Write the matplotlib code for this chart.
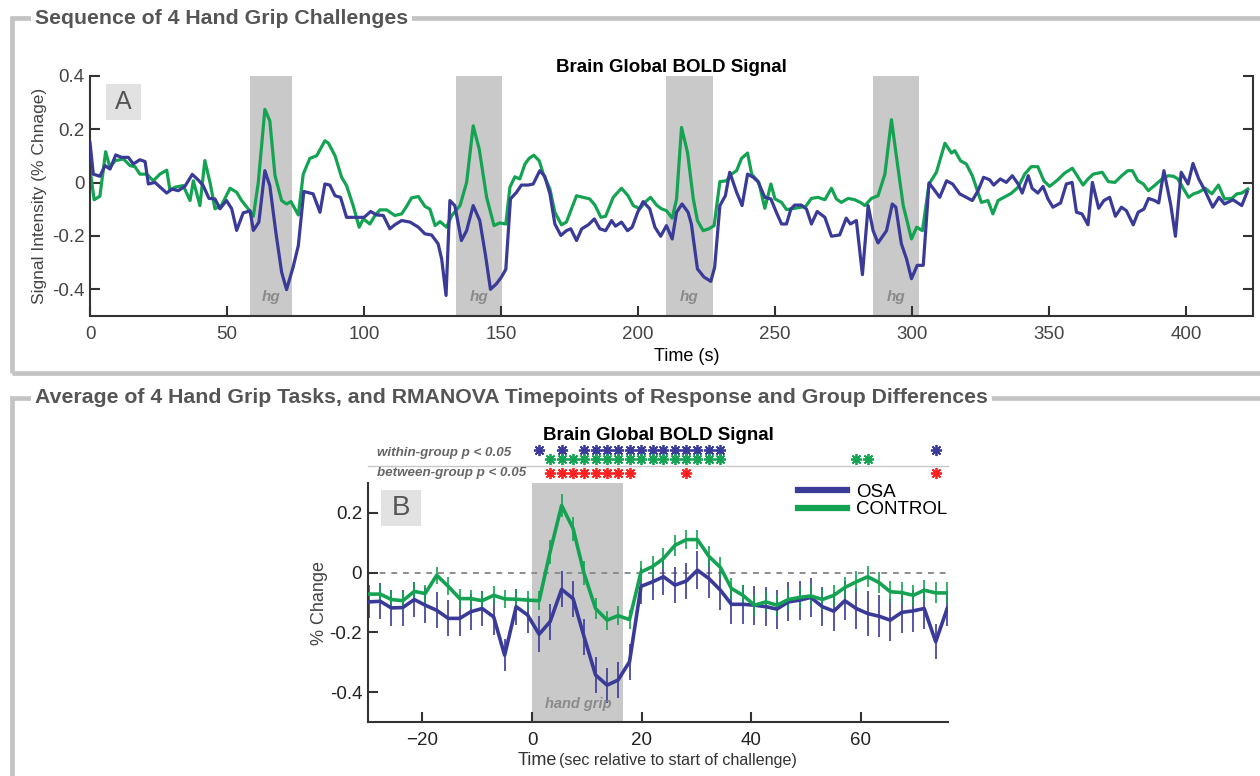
import matplotlib
matplotlib.use("Agg")
import matplotlib.pyplot as plt
from matplotlib.patches import Rectangle
from matplotlib.lines import Line2D
from matplotlib.transforms import blended_transform_factory

plt.rcParams["font.family"] = ["Liberation Sans", "DejaVu Sans"]

# ===============================
# PANEL A - whole run (4 hand grips)
# ===============================
osa_t = [0.0, 1.2, 3.6, 5.5, 7.3, 9.4, 11.5, 14.0, 15.8, 18.2, 20.1, 21.3, 23.7, 28.0, 29.8,
         32.2, 34.6, 37.3, 39.5, 41.3, 43.4, 45.6, 47.4, 49.8, 51.7, 53.5, 55.9, 58.4, 59.6,
         61.6, 63.8, 65.6, 67.8, 69.9, 71.7, 74.1, 76.0, 78.0, 81.4, 83.9,
         85.7, 87.5, 89.4, 91.4, 93.6, 96.0, 98.2, 100.0, 102.4, 104.5, 107.0, 109.4, 111.2,
         113.7, 116.8, 119.8, 122.2, 124.6, 127.0, 128.3, 129.9, 131.3, 133.1, 135.5, 137.4,
         139.8, 142.2, 144.3, 146.1, 148.3, 150.1, 151.7, 153.4, 155.6, 157.4, 159.9, 161.7,
         164.1, 165.9, 167.8, 169.6,
         171.8, 173.8, 175.4, 177.5, 179.4, 181.8, 184.0, 186.0, 188.1, 190.3, 191.7, 193.9,
         196.1, 197.8, 199.8, 201.8, 204.2, 206.1, 208.2, 210.3, 212.4, 214.0, 216.0, 218.2,
         219.4, 221.6, 224.0, 226.5, 227.9, 229.8, 231.8, 233.4, 235.9, 237.9, 239.9, 242.0,
         243.7, 246.2, 248.4, 250.4, 252.3, 254.1, 255.7,
         257.1, 259.5, 261.4, 263.2, 265.3, 268.1, 270.5, 273.5, 275.9, 277.4, 279.6, 281.8,
         283.9, 285.7, 287.5, 290.6, 292.7, 294.0, 296.0, 297.9, 299.7, 301.8, 304.0, 306.1,
         307.8, 310.0, 312.5, 314.7, 317.3, 319.7, 321.9, 324.0, 326.0, 328.2, 329.7, 332.1,
         334.3, 336.5, 338.6, 340.1,
         342.3, 343.7, 345.8, 347.7, 349.5, 351.3, 354.1, 356.2, 358.3, 359.9, 361.9, 364.1,
         365.7, 368.0, 369.9, 372.0, 374.1, 376.3, 378.1, 380.6, 382.4, 384.5, 386.2, 388.4,
         389.9, 391.8, 394.3, 396.0, 398.1, 400.6, 402.4, 404.5, 406.6, 409.6, 411.9, 413.9,
         417.0, 420.2, 422.2]
osa_v = [0.151, 0.032, 0.024, 0.064, 0.051, 0.104, 0.095, 0.095, 0.07, 0.086, 0.079, -0.005,
         0.001, -0.039, -0.024, -0.03, -0.014, 0.031, 0.01, -0.011, -0.059, -0.061, -0.098,
         -0.067, -0.098, -0.179, -0.113, -0.106, -0.179, -0.148, 0.045, -0.011, -0.186, -0.335,
         -0.401, -0.317, -0.236, -0.033, -0.042, -0.111,
         -0.005, -0.009, -0.049, -0.055, -0.13, -0.13, -0.13, -0.13, -0.108, -0.121, -0.123,
         -0.173, -0.158, -0.142, -0.148, -0.167, -0.192, -0.196, -0.229, -0.286, -0.423, -0.067,
         -0.086, -0.217, -0.18, -0.086, -0.142, -0.273, -0.4, -0.379, -0.354, -0.325, -0.061,
         -0.036, -0.009, -0.009, -0.005, 0.045, 0.024, -0.042, -0.155,
         -0.198, -0.18, -0.173, -0.217, -0.173, -0.158, -0.136, -0.173, -0.18, -0.142, -0.163,
         -0.148, -0.18, -0.167, -0.111, -0.071, -0.098, -0.167, -0.201, -0.161, -0.211, -0.111,
         -0.08, -0.111, -0.155, -0.323, -0.354, -0.37, -0.317, -0.086, -0.049, 0.039, -0.036,
         -0.086, 0.032, 0.02, 0.004, -0.055, -0.061, -0.111, -0.155, -0.155, -0.099,
         -0.084, -0.084, -0.099, -0.155, -0.108, -0.13, -0.201, -0.196, -0.133, -0.155, -0.142,
         -0.345, -0.086, -0.18, -0.226, -0.18, -0.08, -0.092, -0.229, -0.286, -0.36, -0.31,
         -0.31, -0.001, -0.024, -0.055, 0.007, -0.005, -0.042, -0.055, -0.067, -0.03, 0.02,
         0.011, -0.009, 0.014, 0.001, 0.026, -0.005, -0.039,
         0.026, -0.021, -0.039, -0.014, -0.061, -0.092, -0.076, -0.005, 0.001, -0.111, -0.117,
         -0.158, 0.001, -0.096, -0.067, -0.055, -0.126, -0.092, -0.105, -0.158, -0.111, -0.099,
         -0.059, -0.067, -0.076, 0.045, -0.084, -0.201, 0.039, -0.005, 0.072, 0.014, -0.026,
         -0.092, -0.055, -0.08, -0.064, -0.086, -0.034]

ctl_t = [0.0, 1.5, 3.6, 5.7, 7.3, 9.1, 12.2, 14.6, 16.4, 18.2, 20.7, 23.1, 25.5, 28.0, 29.2,
         31.0, 34.0, 36.5, 37.7, 40.1, 41.9, 43.8, 45.6, 48.0, 51.1, 53.5, 55.3, 57.7, 59.6,
         61.4, 63.8, 65.6, 67.5, 69.9, 71.7, 73.3, 76.0, 77.8, 80.2, 82.7, 85.7,
         87.0, 89.4, 91.8, 93.6, 96.0, 98.2, 99.7, 102.1, 104.0, 105.8, 108.2, 111.2, 113.7,
         115.5, 117.3, 119.8, 122.2, 124.0, 125.9, 127.7, 130.1, 132.0, 135.0, 137.4, 139.8,
         142.0, 144.7, 147.4, 149.5, 151.7, 153.2, 155.0, 156.8, 158.7, 160.2, 161.9, 163.9,
         165.4, 167.8, 169.6,
         172.0, 173.8, 177.5, 179.9, 182.3, 184.2, 186.4, 188.1, 190.9, 193.9, 196.3, 198.2,
         200.6, 202.4, 204.5, 206.7, 208.5, 210.3, 212.4, 214.0, 215.8, 218.0, 220.1, 221.6,
         223.7, 225.8, 227.7, 229.8, 232.2, 234.0, 235.9, 237.7, 239.9, 241.4, 244.0, 246.2,
         248.4, 249.9, 252.3, 254.1, 257.2,
         261.1, 263.2, 265.6, 268.1, 270.5, 272.3, 274.1, 276.6, 279.0, 281.4, 282.7, 285.1,
         287.5, 290.0, 292.4, 294.5, 296.7, 299.7, 301.6, 303.7, 306.1, 308.8, 311.9, 314.3,
         315.5, 317.6, 319.7, 321.9, 325.2, 327.6, 329.4, 331.3, 334.1, 336.1, 338.6, 341.0,
         343.4, 345.8, 348.0, 350.1, 353.1, 355.6, 358.4, 360.5, 362.3, 364.1, 366.0, 369.3,
         371.5, 373.9, 376.4, 378.6, 380.3, 382.3, 384.3, 386.1, 388.6, 391.1, 393.3, 395.3,
         396.9, 399.0, 400.8, 402.6, 404.4, 406.9, 409.3, 411.7, 413.9, 416.6, 418.4, 420.2,
         422.4]
ctl_v = [0.051, -0.064, -0.051, 0.116, 0.057, 0.082, 0.089, 0.064, 0.06, 0.032, 0.032, 0.007,
         0.032, 0.047, -0.03, -0.017, -0.011, -0.067, 0.007, -0.086, 0.083, 0.0, -0.098, -0.084,
         -0.021, -0.036, -0.067, -0.098, -0.126, 0.001, 0.275, 0.232, 0.026, -0.067, -0.08,
         -0.071, -0.121, 0.032, 0.091, 0.101, 0.157,
         0.148, 0.101, 0.02, -0.011, -0.086, -0.167, -0.136, -0.155, -0.123, -0.102, -0.102,
         -0.123, -0.117, -0.089, -0.057, -0.052, -0.089, -0.099, -0.161, -0.146, -0.167, -0.123,
         -0.086, 0.001, 0.213, 0.126, -0.055, -0.161, -0.151, -0.155, -0.017, 0.022, 0.014,
         0.07, 0.091, 0.103, 0.082, 0.032, -0.024, -0.111,
         -0.158, -0.148, -0.049, -0.055, -0.061, -0.084, -0.13, -0.126, -0.055, -0.021, -0.049,
         -0.086, -0.098, -0.074, -0.055, -0.084, -0.098, -0.105, -0.133, -0.061, 0.207, 0.113,
         -0.061, -0.142, -0.18, -0.173, -0.161, 0.004, 0.007, 0.032, 0.045, 0.091, 0.111, 0.032,
         0.001, -0.096, -0.005, -0.061, -0.074, -0.101, -0.096,
         -0.089, -0.059, -0.055, -0.064, -0.021, -0.061, -0.074, -0.059, -0.064, -0.076, -0.086,
         -0.059, -0.049, 0.032, 0.236, 0.076, -0.086, -0.211, -0.167, -0.18, -0.005, 0.039,
         0.148, 0.111, 0.12, 0.082, 0.07, 0.026, -0.074, -0.067, -0.117, -0.067, -0.051, -0.04,
         -0.017, 0.032,
         0.06, 0.06, 0.007, -0.014, 0.011, 0.036, 0.054, 0.02, -0.009, 0.014, 0.032, 0.039,
         0.004, 0.001, 0.026, 0.045, 0.045, 0.007, -0.005, -0.03, -0.009, 0.014, 0.026, 0.024,
         0.014, -0.024, -0.055, -0.042, -0.036, -0.021, -0.042, -0.009, -0.061, -0.059, -0.042,
         -0.039, -0.024]

hg_blocks = [(58.4, 73.7), (133.6, 150.4), (210.3, 227.2), (285.5, 302.6)]

# ===============================
# PANEL B - average of 4 grips
# ===============================
b_time = [-29.8, -27.7, -25.7, -23.6, -21.5, -19.5, -17.4, -15.3, -13.2, -11.2, -9.1, -7.0,
          -5.0, -2.9, -0.8, 1.3, 3.3, 5.4, 7.5, 9.5, 11.6, 13.7, 15.7, 17.8, 19.9, 22.0, 24.0,
          26.1, 28.2, 30.2, 32.3, 34.4, 36.4, 38.5, 40.6, 42.7, 44.7, 46.8, 48.9, 50.9, 53.0,
          55.1, 57.1, 59.2, 61.3, 63.4, 65.4, 67.5, 69.6, 71.6, 73.7, 75.8]
b_ctl = [-0.072, -0.072, -0.09, -0.094, -0.063, -0.07, -0.009, -0.046, -0.087, -0.087, -0.094,
         -0.076, -0.088, -0.089, -0.092, -0.094, 0.069, 0.224, 0.147, -0.003, -0.12, -0.159,
         -0.144, -0.157, 0.002, 0.02, 0.047, 0.091, 0.11, 0.11, 0.054, 0.017, -0.053, -0.076,
         -0.109, -0.098, -0.109, -0.09, -0.083, -0.078, -0.09, -0.076, -0.05, -0.031, -0.014,
         -0.034, -0.064, -0.067, -0.076, -0.059, -0.068, -0.068]
b_ctl_err = [0.03, 0.03, 0.032, 0.03, 0.03, 0.03, 0.028, 0.03, 0.032, 0.03, 0.03, 0.03, 0.03,
             0.03, 0.03, 0.032, 0.04, 0.039, 0.04, 0.04, 0.035, 0.032, 0.032, 0.032, 0.035,
             0.035, 0.035, 0.035, 0.033, 0.033, 0.035, 0.035, 0.035, 0.035, 0.035, 0.035, 0.035,
             0.035, 0.035, 0.035, 0.035, 0.035, 0.035, 0.035, 0.035, 0.035, 0.035, 0.035, 0.035,
             0.035, 0.035, 0.035]
b_osa = [-0.098, -0.096, -0.118, -0.117, -0.09, -0.109, -0.126, -0.153, -0.153, -0.131, -0.12,
         -0.148, -0.276, -0.114, -0.142, -0.206, -0.164, -0.056, -0.087, -0.214, -0.342, -0.376,
         -0.359, -0.298, -0.046, -0.031, -0.014, -0.042, -0.028, 0.008, -0.02, -0.059, -0.106,
         -0.106, -0.109, -0.114, -0.122, -0.098, -0.092, -0.083, -0.114, -0.129, -0.094, -0.12,
         -0.137, -0.146, -0.159, -0.133, -0.128, -0.12, -0.231, -0.12]
b_osa_err = [0.055, 0.06, 0.06, 0.06, 0.06, 0.06, 0.06, 0.06, 0.06, 0.06, 0.06, 0.06, 0.054,
             0.06, 0.06, 0.06, 0.06, 0.06, 0.06, 0.06, 0.06, 0.058, 0.06, 0.06, 0.06, 0.06,
             0.06, 0.06, 0.06, 0.064, 0.064, 0.065, 0.065, 0.065, 0.065, 0.065, 0.065, 0.065,
             0.065, 0.065, 0.065, 0.065, 0.065, 0.07, 0.075, 0.07, 0.07, 0.07, 0.07, 0.07, 0.058,
             0.06]
grip_window = (0.0, 16.7)

# RMANOVA significant timepoints (index into b_time)
osa_within_idx = [15, 17, 19, 20, 21, 22, 23, 24, 25, 26, 27, 28, 29, 30, 31, 50]
ctl_within_idx = [16, 17, 18, 19, 20, 21, 22, 23, 24, 25, 26, 27, 28, 29, 30, 31, 43, 44]
between_idx = [16, 17, 18, 19, 20, 21, 22, 23, 28, 50]

# ===============================
# STYLE
# ===============================
OSA_C = "#3a3a98"
CTL_C = "#14a352"
SHADE = "#c9c9c9"
FRAME = "#c4c4c4"
AX_C = "#333333"
W, H = 1260, 776


def fx(px):
    return px / W


def fy(py):
    return 1 - py / H


fig = plt.figure(figsize=(12.6, 7.76), dpi=100)

# panel frames + headers
fig.patches.append(Rectangle((fx(12), fy(373)), fx(1280 - 12), (373 - 18) / H,
                             transform=fig.transFigure, fill=False, ec=FRAME, lw=3.4))
fig.patches.append(Rectangle((fx(12), fy(800)), fx(1280 - 12), (800 - 398) / H,
                             transform=fig.transFigure, fill=False, ec=FRAME, lw=3.4))
for py, txt in [(18, "Sequence of 4 Hand Grip Challenges"),
                (398, "Average of 4 Hand Grip Tasks, and RMANOVA Timepoints of Response and Group Differences")]:
    fig.text(fx(35), fy(py), txt, ha="left", va="center", fontsize=15.3, fontweight="bold",
             color="#555555", bbox=dict(fc="white", ec="none", pad=3))

# ===============================
# AXES A
# ===============================
axA = fig.add_axes([fx(90), fy(316), (1253 - 90) / W, (316 - 76) / H])
for a, b in hg_blocks:
    axA.axvspan(a, b, color=SHADE, lw=0, zorder=0)
    axA.text((a + b) / 2, -0.43, "hg", ha="center", va="center", fontsize=11,
             fontweight="bold", fontstyle="italic", color="#8a8a8a")
axA.plot(ctl_t, ctl_v, color=CTL_C, lw=2.3, zorder=2)
axA.plot(osa_t, osa_v, color=OSA_C, lw=2.3, zorder=3)
axA.set_xlim(0, 424.3)
axA.set_ylim(-0.5, 0.4)
axA.set_xticks([0, 50, 100, 150, 200, 250, 300, 350, 400])
axA.set_yticks([-0.4, -0.2, 0, 0.2, 0.4])
axA.set_yticklabels(["-0.4", "-0.2", "0", "0.2", "0.4"])
axA.spines["top"].set_visible(False)
for s in ["left", "right", "bottom"]:
    axA.spines[s].set_linewidth(1.5)
    axA.spines[s].set_color(AX_C)
axA.tick_params(direction="in", length=7, width=1.5, color=AX_C, labelsize=13.5,
                labelcolor="#444444", right=True, labelright=False)
axA.tick_params(axis="x", pad=7)
axA.tick_params(axis="y", pad=4)
axA.text(0.5, 1.037, "Brain Global BOLD Signal", transform=axA.transAxes, ha="center",
         va="center", fontsize=13.5, fontweight="bold")
fig.text(fx(40), fy(196), "Signal Intensity (% Chnage)", rotation=90, ha="center",
         va="center", fontsize=12.5, color="#444444")
fig.text(fx(687), fy(357), "Time (s)", ha="center", va="center", fontsize=13)

fig.patches.append(Rectangle((fx(106), fy(120)), 35 / W, 36 / H, transform=fig.transFigure,
                             fc="#e2e2e2", ec="none"))
fig.text(fx(123.5), fy(102), "A", ha="center", va="center", fontsize=18, color="#555555")

# ===============================
# AXES B
# ===============================
axB = fig.add_axes([fx(367.7), fy(722.3), (948.3 - 367.7) / W, (722.3 - 482.7) / H])
axB.axvspan(grip_window[0], grip_window[1], color=SHADE, lw=0, zorder=0)
axB.text(sum(grip_window) / 2, -0.44, "hand grip", ha="center", va="center", fontsize=10.5,
         fontweight="bold", fontstyle="italic", color="#8a8a8a")
axB.axhline(0, color="#8c8c8c", lw=1.4, ls=(0, (3, 3)), zorder=1)
axB.errorbar(b_time, b_osa, yerr=b_osa_err, fmt="none", ecolor=OSA_C, elinewidth=1.2,
             capsize=0, zorder=2)
axB.errorbar(b_time, b_ctl, yerr=b_ctl_err, fmt="none", ecolor=CTL_C, elinewidth=1.2,
             capsize=0, zorder=2)
axB.plot(b_time, b_osa, color=OSA_C, lw=2.6, zorder=3)
axB.plot(b_time, b_ctl, color=CTL_C, lw=2.6, zorder=4)
axB.set_xlim(-30, 76)
axB.set_ylim(-0.5, 0.3)
axB.set_xticks([-20, 0, 20, 40, 60])
axB.set_yticks([-0.4, -0.2, 0, 0.2])
axB.set_yticklabels(["-0.4", "-0.2", "0", "0.2"])
axB.spines["top"].set_visible(False)
axB.spines["right"].set_visible(False)
for s in ["left", "bottom"]:
    axB.spines[s].set_linewidth(1.5)
    axB.spines[s].set_color(AX_C)
axB.tick_params(direction="in", length=7, width=1.5, color=AX_C, labelsize=13.5,
                labelcolor="#222222")
axB.tick_params(axis="x", pad=7)
axB.tick_params(axis="y", pad=4)

axB.legend(handles=[Line2D([], [], color=OSA_C, lw=4.5), Line2D([], [], color=CTL_C, lw=4.5)],
           labels=["OSA", "CONTROL"], loc="upper left", bbox_to_anchor=(0.741, 0.995),
           frameon=False, fontsize=13.5, handlelength=2.6, handletextpad=0.5,
           labelspacing=0.0, borderpad=0, borderaxespad=0)

# significance star rows above the plot
trans = blended_transform_factory(axB.transData, axB.transAxes)
star_rows = [(osa_within_idx, 1.1365, OSA_C), (ctl_within_idx, 1.0977, CTL_C),
             (between_idx, 1.039, "#ff2020")]
for idx, yrow, col in star_rows:
    axB.plot([b_time[i] for i in idx], [yrow] * len(idx), ls="none", marker=(8, 2, 0),
             ms=8, mew=1.3, color=col, transform=trans, clip_on=False)
axB.add_line(Line2D([0, 1], [1.071, 1.071], transform=axB.transAxes, color="#c8c8c8", lw=1,
                    clip_on=False))
axB.text(0.016, 1.124, "within-group p < 0.05", transform=axB.transAxes, ha="left",
         va="center", fontsize=9.6, fontweight="bold", fontstyle="italic", color="#666666")
axB.text(0.016, 1.04, "between-group p < 0.05", transform=axB.transAxes, ha="left",
         va="center", fontsize=9.6, fontweight="bold", fontstyle="italic", color="#666666")
axB.text(0.5, 1.195, "Brain Global BOLD Signal", transform=axB.transAxes, ha="center",
         va="center", fontsize=13.5, fontweight="bold")

fig.text(fx(319), fy(603), "% Change", rotation=90, ha="center", va="center", fontsize=13,
         color="#444444")
fig.text(fx(518), fy(765), "Time", ha="left", va="baseline", fontsize=13, color="#333333")
fig.text(fx(559), fy(765), "(sec relative to start of challenge)", ha="left", va="baseline",
         fontsize=11.6, color="#333333")

fig.patches.append(Rectangle((fx(381), fy(525.7)), 39.7 / W, 35.7 / H,
                             transform=fig.transFigure, fc="#e2e2e2", ec="none"))
fig.text(fx(400.8), fy(508), "B", ha="center", va="center", fontsize=20, color="#555555")

fig.savefig("out.png", dpi=100)
plt.close(fig)
